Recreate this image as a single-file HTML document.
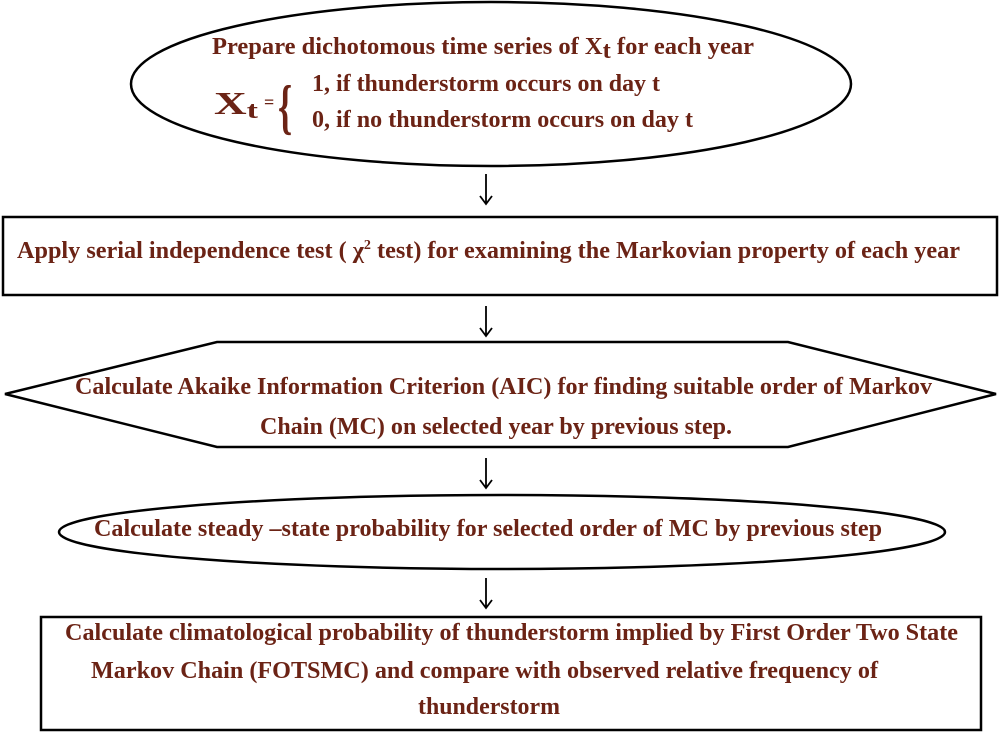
<!DOCTYPE html>
<html><head><meta charset="utf-8"><style>
html,body{margin:0;padding:0;background:#fff;}
svg{display:block;}
text{font-family:"Liberation Serif",serif;font-weight:bold;fill:#6b2315;font-size:24px;}
</style></head><body>
<svg width="1000" height="732" viewBox="0 0 1000 732" xmlns="http://www.w3.org/2000/svg">
<g fill="none" stroke="#000" stroke-width="2.5">
<ellipse cx="491" cy="84" rx="360" ry="82"/>
<rect x="3" y="217" width="994" height="78"/>
<polygon points="217,342 788,342 996,394 788,447 217,447 5,394"/>
<ellipse cx="502" cy="532" rx="443" ry="37"/>
<rect x="41" y="617" width="940" height="113"/>
</g>
<g fill="none" stroke="#000" stroke-width="1.8">
<path d="M486,174 V204 M480,196 L486,204 L492,196"/>
<path d="M486,306 V336 M480,328 L486,336 L492,328"/>
<path d="M486,458 V488 M480,480 L486,488 L492,480"/>
<path d="M486,578 V608 M480,600 L486,608 L492,600"/>
</g>
<text x="212" y="54" textLength="542" lengthAdjust="spacingAndGlyphs">Prepare dichotomous time series of  X<tspan dy="4">t</tspan><tspan dy="-4"> for each year</tspan></text>
<text x="214" y="114" style="font-size:32px" textLength="44" lengthAdjust="spacingAndGlyphs">X<tspan dy="4" style="font-size:24px">t</tspan></text>
<text x="264" y="108" style="font-size:18px">=</text>
<text x="0" y="0" style="font-size:60px" transform="translate(278 127) scale(0.6 1)">{</text>
<text x="312" y="91" textLength="348" lengthAdjust="spacingAndGlyphs">1, if thunderstorm occurs on day t</text>
<text x="312" y="127" textLength="381" lengthAdjust="spacingAndGlyphs">0, if no thunderstorm occurs on day t</text>
<text x="17" y="258" textLength="943" lengthAdjust="spacingAndGlyphs">Apply serial independence test ( χ<tspan dy="-9" style="font-size:14px">2</tspan><tspan dy="9"> test) for examining the Markovian property of each year</tspan></text>
<text x="75" y="394" textLength="857" lengthAdjust="spacingAndGlyphs">Calculate Akaike Information Criterion (AIC) for finding suitable order of Markov</text>
<text x="260" y="434" textLength="472" lengthAdjust="spacingAndGlyphs">Chain (MC) on selected year by previous step.</text>
<text x="94" y="536" textLength="788" lengthAdjust="spacingAndGlyphs">Calculate steady –state probability for selected order of MC by previous step</text>
<text x="65" y="640" textLength="893" lengthAdjust="spacingAndGlyphs">Calculate climatological probability of thunderstorm implied by First Order Two State</text>
<text x="91" y="678" textLength="787" lengthAdjust="spacingAndGlyphs">Markov Chain (FOTSMC) and compare with observed relative frequency of</text>
<text x="418" y="714" textLength="142" lengthAdjust="spacingAndGlyphs">thunderstorm</text>
</svg>
</body></html>
